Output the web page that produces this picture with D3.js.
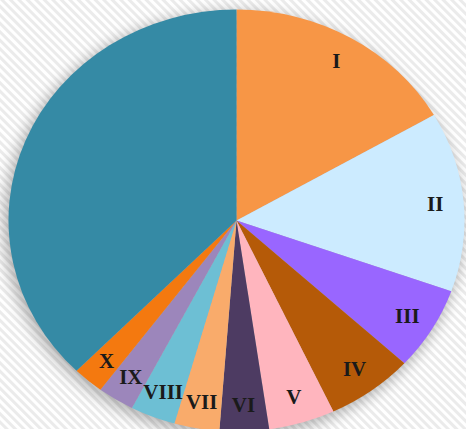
<!DOCTYPE html>
<html>
<head>
<meta charset="utf-8">
<script src="https://cdn.jsdelivr.net/npm/d3@7"></script>
<style>
  html, body { margin: 0; padding: 0; background: #fff; overflow: hidden; }
  svg { display: block; }
</style>
</head>
<body>
<div id="chart"></div>
<script>
var w = 466,
	h = 429;

// slice labels (last slice carries no label)
var categories = ['I','II','III','IV','V','VI','VII','VIII','IX','X',''];
// share of each slice, percent
var values = [16.7, 13.8, 6.4, 6.2, 4.7, 3.5, 3.2, 3.2, 2.6, 2.2, 37.7];
var colors = ['#F79646','#CCEBFF','#9966FF','#B55A08','#FFB5BE','#4D3B62',
	'#F9AB6B','#6DBFD4','#9C86BB','#F4790F','#358AA5'];

var cx = 236.5, cy = 220.5,
	rx = 228, ry = 211;

var svg = d3.select('#chart').append('svg')
	.attr('width', w)
	.attr('height', h);

var defs = svg.append('defs');

//striped backdrop
var pat = defs.append('pattern')
	.attr('id', 'stripes')
	.attr('patternUnits', 'userSpaceOnUse')
	.attr('width', 6)
	.attr('height', 6)
	.attr('patternTransform', 'rotate(-45)');
pat.append('rect').attr('width', 6).attr('height', 6).attr('fill', '#ffffff');
pat.append('rect').attr('width', 3).attr('height', 6).attr('fill', '#ebebeb');

var blur = defs.append('filter')
	.attr('id', 'shadow')
	.attr('x', '-20%').attr('y', '-20%')
	.attr('width', '140%').attr('height', '140%');
blur.append('feGaussianBlur').attr('stdDeviation', 7);

svg.append('rect')
	.attr('width', w)
	.attr('height', h)
	.attr('fill', 'url(#stripes)');

//soft shadow under the pie
svg.append('ellipse')
	.attr('cx', cx - 3)
	.attr('cy', cy + 4)
	.attr('rx', rx + 2)
	.attr('ry', ry + 2)
	.attr('fill', '#000')
	.attr('opacity', 0.28)
	.attr('filter', 'url(#shadow)');

var pie = d3.pie().sort(null).value(function(d) { return d; });
var arcs = pie(values);

var arc = d3.arc().innerRadius(0).outerRadius(ry);
var labelArc = d3.arc().innerRadius(ry * 0.875).outerRadius(ry * 0.875);

var g = svg.append('g')
	.attr('transform', 'translate(' + cx + ',' + cy + ')');

g.append('g')
	.attr('transform', 'scale(' + (rx / ry) + ',1)')
	.selectAll('path')
	.data(arcs)
	.enter()
	.append('path')
	.attr('d', arc)
	.attr('fill', function(d, i) { return colors[i]; });

g.selectAll('text')
	.data(arcs)
	.enter()
	.append('text')
	.attr('x', function(d) { return labelArc.centroid(d)[0] * rx / ry; })
	.attr('y', function(d) { return labelArc.centroid(d)[1]; })
	.attr('text-anchor', 'middle')
	.attr('dominant-baseline', 'central')
	.attr('font-family', '"Liberation Serif", "DejaVu Serif", serif')
	.attr('font-weight', 'bold')
	.attr('font-size', '21px')
	.attr('fill', '#1a1a1a')
	.text(function(d, i) { return categories[i]; });
</script>
</body>
</html>
